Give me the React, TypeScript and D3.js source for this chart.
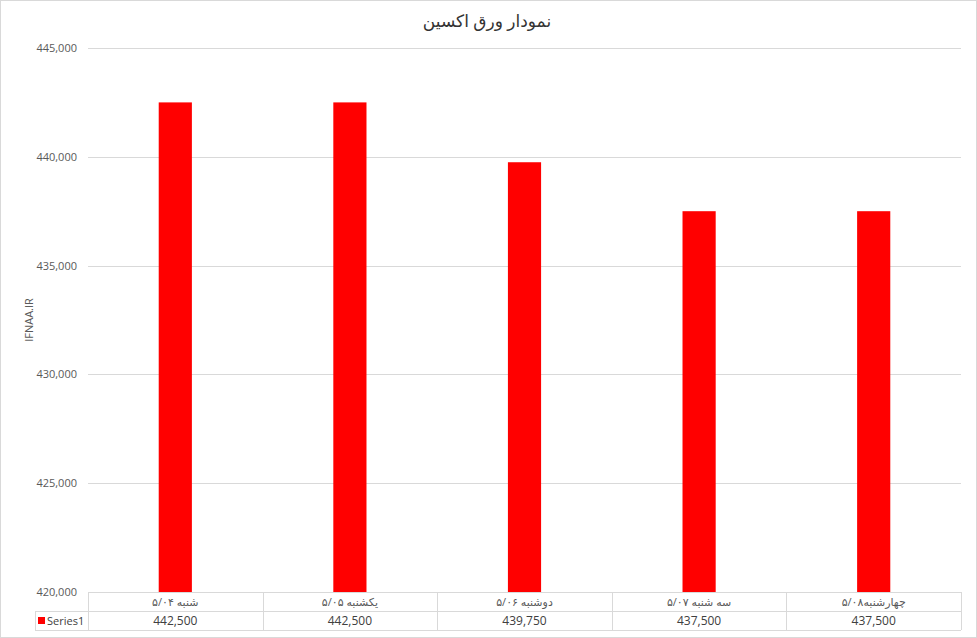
import React from "react";
import * as d3 from "d3";

const categories = ["شنبه ۵/۰۴", "یکشنبه ۵/۰۵", "دوشنبه ۵/۰۶", "سه شنبه ۵/۰۷", "چهارشنبه۵/۰۸"];
const values = [442500, 442500, 439750, 437500, 437500];
const yTicks = [420000, 425000, 430000, 435000, 440000, 445000];
const seriesName = "Series1";
const title = "نمودار ورق اکسین";
const yAxisTitle = "IFNAA.IR";

const W = 977;
const H = 638;
const FONT = "'Open Sans', 'DejaVu Sans', sans-serif";

export default function App() {
  const x0 = 88, x1 = 961, yTop = 48, yBot = 592;
  const rowH = 19;
  const x = d3.scaleBand<string>().domain(categories).range([x0, x1]).paddingInner(0).paddingOuter(0);
  const y = d3.scaleLinear().domain([420000, 445000]).range([yBot, yTop]);
  const fmt = d3.format(",");
  const barW = x.bandwidth() * 0.19;
  const grid = "#d9d9d9";
  return (
    <div style={{ position: "absolute", left: 0, top: 0 }}>
      <svg width={W} height={H} style={{ display: "block", fontFamily: FONT }}>
        <rect x={0.5} y={0.5} width={W - 1} height={H - 1} fill="#fff" stroke={grid} />
        <text x={487} y={27} textAnchor="middle" fontSize={17} fill="#333333">{title}</text>
        {yTicks.map((t) => (
          <g key={t}>
            <line x1={x0} x2={x1} y1={Math.round(y(t)) + 0.5} y2={Math.round(y(t)) + 0.5} stroke={grid} />
            <text x={77} y={y(t) + 4} textAnchor="end" fontSize={11} fill="#595959">{fmt(t)}</text>
          </g>
        ))}
        <text transform={`translate(33,${320}) rotate(-90)`} textAnchor="middle" fontSize={11} fill="#595959">{yAxisTitle}</text>
        {values.map((v, i) => {
          const cx = (x(categories[i]) as number) + x.bandwidth() / 2;
          return <rect key={i} x={cx - barW / 2} y={y(v)} width={barW} height={yBot - y(v)} fill="#ff0000" />;
        })}
        {/* data table */}
        <line x1={x0} x2={x1} y1={yBot + 0.5} y2={yBot + 0.5} stroke={grid} />
        <line x1={35} x2={x1} y1={yBot + rowH + 0.5} y2={yBot + rowH + 0.5} stroke={grid} />
        <line x1={35} x2={x1} y1={yBot + 2 * rowH + 0.5} y2={yBot + 2 * rowH + 0.5} stroke={grid} />
        <line x1={35.5} x2={35.5} y1={yBot + rowH} y2={yBot + 2 * rowH} stroke={grid} />
        {categories.map((c, i) => (
          <line key={"v" + i} x1={Math.round(x(c) as number) + 0.5} x2={Math.round(x(c) as number) + 0.5} y1={yBot} y2={yBot + 2 * rowH} stroke={grid} />
        ))}
        <line x1={x1 + 0.5} x2={x1 + 0.5} y1={yBot} y2={yBot + 2 * rowH} stroke={grid} />
        {categories.map((c, i) => {
          const cx = (x(c) as number) + x.bandwidth() / 2;
          return (
            <g key={"t" + i}>
              <text x={cx} y={yBot + 14} textAnchor="middle" fontSize={11} fill="#595959">{c}</text>
              <text x={cx} y={yBot + rowH + 14} textAnchor="middle" fontSize={12} fill="#404040">{fmt(values[i])}</text>
            </g>
          );
        })}
        <rect x={38} y={yBot + rowH + 6} width={7} height={7} fill="#ff0000" />
        <text x={47} y={yBot + rowH + 14} fontSize={11} fill="#404040">{seriesName}</text>
      </svg>
    </div>
  );
}
